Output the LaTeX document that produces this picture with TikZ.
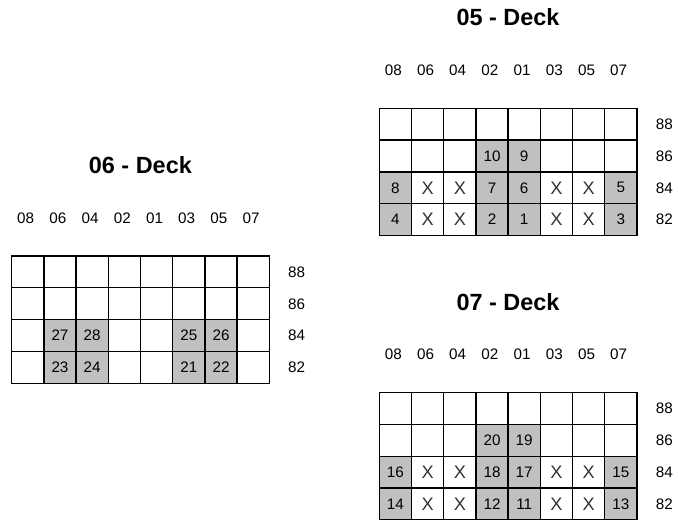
\documentclass[tikz,border=0pt]{standalone}
\usepackage{fontspec}
\setmainfont{Liberation Sans}
\usetikzlibrary{positioning}
\definecolor{slot}{HTML}{C0C0C0}

\begin{document}
\begin{tikzpicture}[x=0.03cm, y=-0.03cm,
  cell/.style={draw, line width=1.1pt, minimum width=0.966cm, minimum height=0.954cm,
    inner sep=0pt, font=\fontsize{13}{15}\selectfont},
  full/.style={cell, fill=slot},
  ttl/.style={font=\fontsize{20}{24}\selectfont\bfseries},
  lbl/.style={font=\fontsize{13}{15}\selectfont},
  nox/.style={font=\fontsize{15.5}{17}\selectfont, text=black!80}]
  \useasboundingbox (0,0) rectangle (678,519);

  % decks: name / grid left / grid top / deck no.
  \foreach \d/\gx/\gy/\t in {a/379.3/108.3/05, b/11.7/256/06, c/379.3/392.7/07}{
    \node[ttl] (\d t) at (\gx+128.7,\gy-91) {\t\ - Deck};
    % bays
    \foreach \lbl [count=\i from 0] in {08,06,04,02,01,03,05,07}
      \node[lbl] (\d c\i) at (\gx+14+32.2*\i,\gy-38) {\lbl};
    % tiers
    \foreach \lbl [count=\j from 0] in {88,86,84,82}
      \node[lbl] (\d r\j) at (\gx+285,\gy+16+31.8*\j) {\lbl};
    % slots
    \foreach \i in {0,...,7}
      \foreach \j in {0,...,3}
        \node[cell] (\d\i\j) at (\gx+16.1+32.2*\i,\gy+15.9+31.8*\j) {};
  }

  % occupied slots
  \foreach \d/\i/\j/\n in {a/3/1/10, a/4/1/9, a/0/2/8, a/3/2/7, a/4/2/6, a/7/2/5,
      a/0/3/4, a/3/3/2, a/4/3/1, a/7/3/3,
      b/1/2/27, b/2/2/28, b/5/2/25, b/6/2/26, b/1/3/23, b/2/3/24, b/5/3/21, b/6/3/22,
      c/3/1/20, c/4/1/19, c/0/2/16, c/3/2/18, c/4/2/17, c/7/2/15,
      c/0/3/14, c/3/3/12, c/4/3/11, c/7/3/13}
    \node[full] at (\d\i\j) {\n};

  % blocked slots
  \foreach \d/\i/\j in {a/1/2, a/2/2, a/5/2, a/6/2, a/1/3, a/2/3, a/5/3, a/6/3,
      c/1/2, c/2/2, c/5/2, c/6/2, c/1/3, c/2/3, c/5/3, c/6/3}
    \node[nox] at (\d\i\j) {X};
\end{tikzpicture}
\end{document}
